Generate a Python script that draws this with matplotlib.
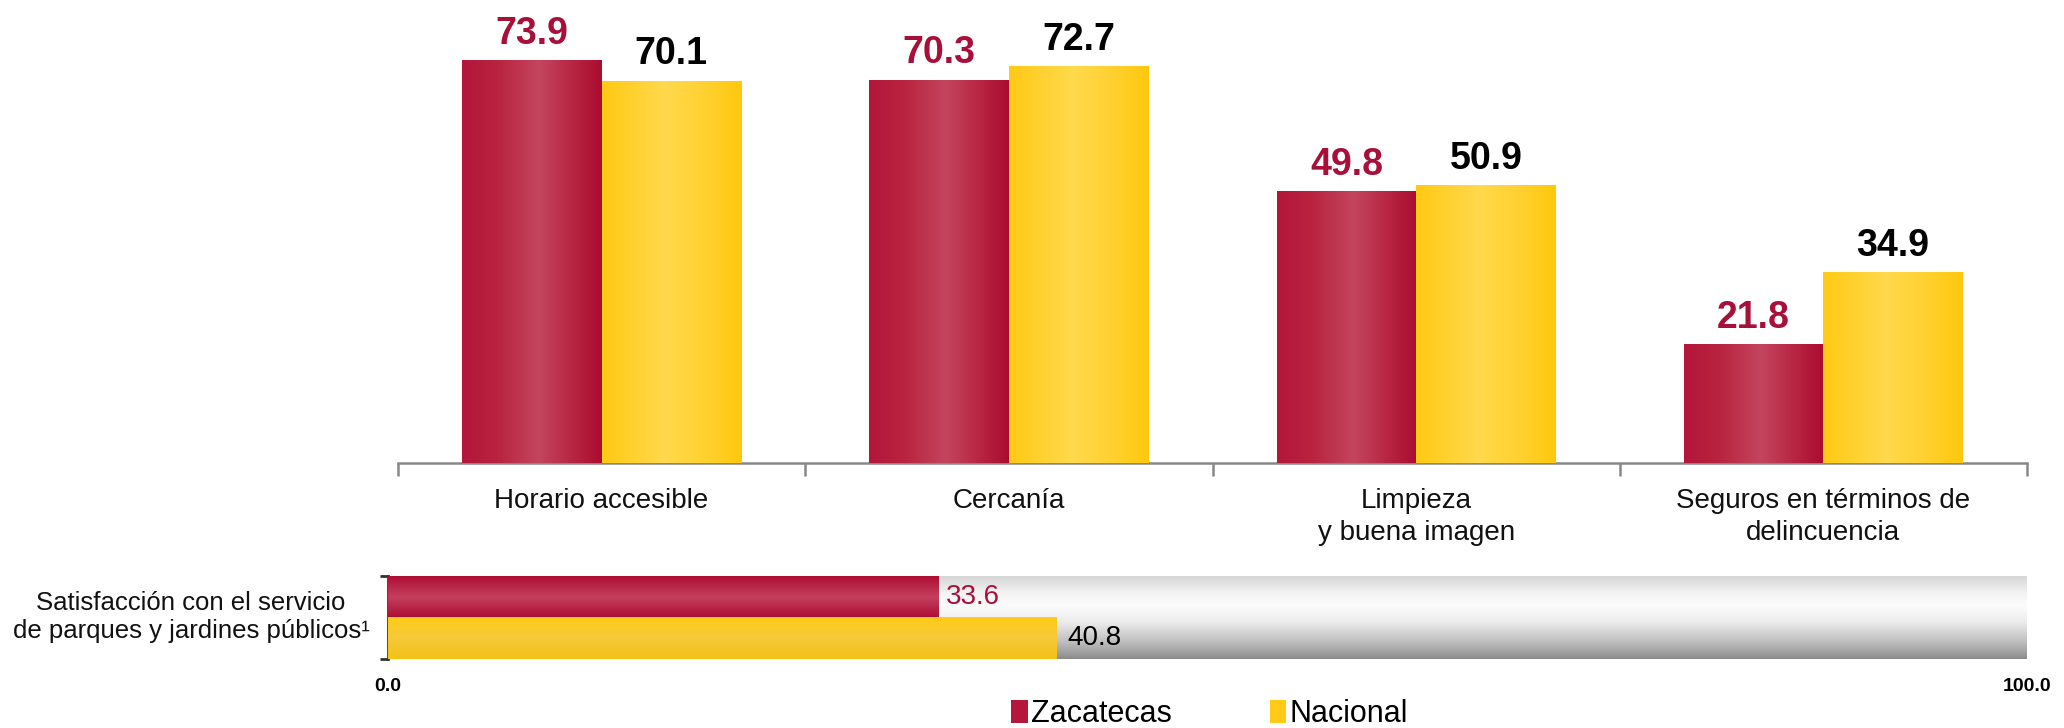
import matplotlib
matplotlib.use("Agg")
import matplotlib.pyplot as plt
import numpy as np
from matplotlib.colors import LinearSegmentedColormap
from matplotlib.patches import Patch

plt.rcParams['font.family'] = ['Liberation Sans', 'DejaVu Sans']

# ---- data ----
categories = ["Horario accesible", "Cercanía", "Limpieza\ny buena imagen",
              "Seguros en términos de\ndelincuencia"]
zacatecas = [73.9, 70.3, 49.8, 21.8]
nacional = [70.1, 72.7, 50.9, 34.9]
series_names = ["Zacatecas", "Nacional"]
sat_label = "Satisfacción con el servicio\nde parques y jardines públicos¹"
sat_zacatecas = 33.6
sat_nacional = 40.8
sat_ticks = [0.0, 100.0]

RED = "#B5173A"
YEL = "#FFCB16"
RED_TXT = "#A8103A"

red_h = LinearSegmentedColormap.from_list("rh", [(0, "#B3163A"), (0.25, "#B9233F"), (0.55, "#C4455E"), (0.85, "#B41E3C"), (1, "#AA0C30")])
yel_h = LinearSegmentedColormap.from_list("yh", [(0, "#FFC914"), (0.45, "#FFD94C"), (0.75, "#FFD030"), (1, "#FFC80C")])
red_v = LinearSegmentedColormap.from_list("rv", [(0, "#AE0E33"), (0.5, "#C4405C"), (1, "#AC0C31")])
yel_v = LinearSegmentedColormap.from_list("yv", [(0, "#FFCC16"), (0.5, "#F5C93A"), (1, "#F3C214")])
bg_v = LinearSegmentedColormap.from_list("bg", [(0, "#D6D6D6"), (0.2, "#F2F2F2"), (0.35, "#FCFCFC"), (0.55, "#EDEDED"), (0.8, "#BDBDBD"), (0.95, "#999999"), (1, "#8A8A8A")])

fig = plt.figure(figsize=(20.64, 7.28), dpi=100)

# ---- top chart ----
ax = fig.add_axes([398 / 2064, 1 - 463 / 728, (2027 - 398) / 2064, 463 / 728])
x = np.arange(len(categories))
w = 0.3425
b1 = ax.bar(x - w / 2, zacatecas, w, color=RED, zorder=2)
b2 = ax.bar(x + w / 2, nacional, w, color=YEL, zorder=2)
hgrad = np.linspace(0, 1, 256).reshape(1, -1)
for bars, cmap in ((b1, red_h), (b2, yel_h)):
    for r in bars:
        ax.imshow(hgrad, cmap=cmap, aspect='auto', interpolation='bicubic',
                  extent=[r.get_x(), r.get_x() + r.get_width(), 0, r.get_height()], zorder=3)
for bars, vals, col in ((b1, zacatecas, RED_TXT), (b2, nacional, "black")):
    for r, v in zip(bars, vals):
        ax.annotate(f"{v:.1f}", (r.get_x() + r.get_width() / 2, r.get_height()),
                    xytext=(0, 12), textcoords="offset points", ha="center", va="baseline",
                    fontsize=27, fontweight="bold", color=col)
ax.set_xlim(-0.5, len(categories) - 0.5)
ax.set_ylim(0, 85)
for s in ("left", "top", "right"):
    ax.spines[s].set_visible(False)
ax.spines["bottom"].set_color("#888888")
ax.spines["bottom"].set_linewidth(1.8)
ax.set_yticks([])
ax.set_xticks(x)
ax.set_xticklabels(categories, fontsize=20, color="#111111", linespacing=1.3)
ax.set_xticks(np.arange(len(categories) + 1) - 0.5, minor=True)
ax.tick_params(axis="x", which="major", length=0, pad=18)
ax.tick_params(axis="x", which="minor", length=9, width=1.8, color="#888888")

# ---- bottom panel ----
ax2 = fig.add_axes([388 / 2064, 1 - 659 / 728, (2027 - 388) / 2064, (659 - 576) / 728])
ax2.imshow(np.linspace(0, 1, 256).reshape(-1, 1), cmap=bg_v, aspect='auto',
           interpolation='bicubic', extent=[0, 100, 0, 2], zorder=0)
vgrad = np.linspace(0, 1, 256).reshape(-1, 1)
r1 = ax2.barh([1.5], [sat_zacatecas], height=1.0, color=RED, zorder=2)[0]
r2 = ax2.barh([0.5], [sat_nacional], height=1.0, color=YEL, zorder=2)[0]
for r, cmap in ((r1, red_v), (r2, yel_v)):
    ax2.imshow(vgrad, cmap=cmap, aspect='auto', interpolation='bicubic',
               extent=[0, r.get_width(), r.get_y(), r.get_y() + r.get_height()], zorder=3)
ax2.annotate(f"{sat_zacatecas:.1f}", (sat_zacatecas, 1.5), xytext=(5, 0), textcoords="offset points",
             ha="left", va="center", fontsize=20, color=RED_TXT)
ax2.annotate(f"{sat_nacional:.1f}", (sat_nacional, 0.5), xytext=(8, 0), textcoords="offset points",
             ha="left", va="center", fontsize=20, color="black")
ax2.set_xlim(0, 100)
ax2.set_ylim(0, 2)
for s in ("top", "right", "bottom"):
    ax2.spines[s].set_visible(False)
ax2.spines["left"].set_color("#333333")
ax2.spines["left"].set_linewidth(2)
ax2.set_yticks([0, 2])
ax2.set_yticklabels([])
ax2.tick_params(axis="y", length=6, width=2, color="#333333")
ax2.set_xticks(sat_ticks)
ax2.set_xticklabels([f"{t:.1f}" for t in sat_ticks], fontsize=14, fontweight="bold")
ax2.tick_params(axis="x", length=0, pad=14)
fig.text(191 / 2064, 1 - 617 / 728, sat_label, ha="center", va="center",
         fontsize=18.5, color="#111111", linespacing=1.25)

# ---- legend ----
handles = [Patch(facecolor=RED), Patch(facecolor=YEL)]
fig.legend(handles, series_names, loc="center", bbox_to_anchor=(0.586, 1 - 714 / 728),
           ncol=2, frameon=False, fontsize=22, handlelength=0.55, handleheight=0.8,
           handletextpad=0.1, columnspacing=3.2, borderpad=0)

fig.savefig("out.png", dpi=100)
